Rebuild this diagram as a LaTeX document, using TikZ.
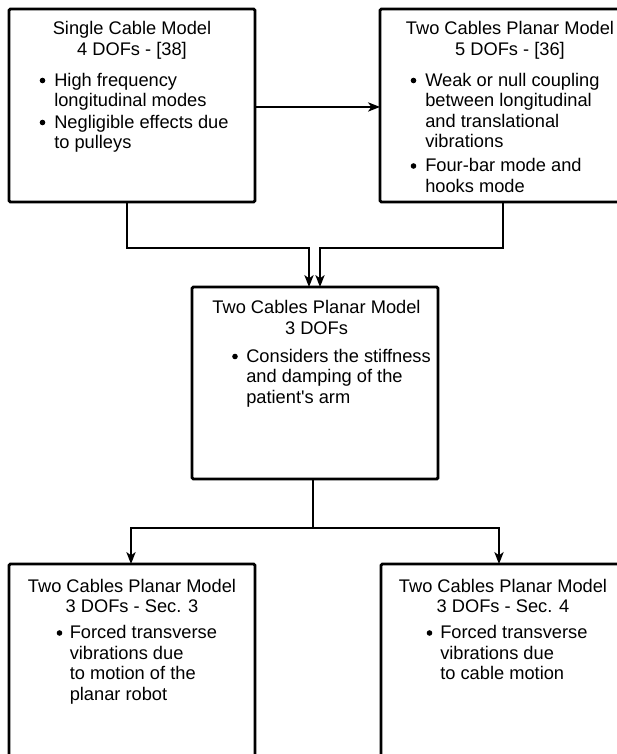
\documentclass[tikz,border=0pt]{standalone}
\usepackage{fontspec}
\setmainfont{Liberation Sans}
\usetikzlibrary{arrows.meta,calc}
\begin{document}
\begin{tikzpicture}[x=0.75pt,y=-0.75pt,
  box/.style={draw,line width=2.2pt,rounded corners=1pt,inner sep=0pt,outer sep=0pt},
  tl/.style={anchor=base,inner sep=0pt,font=\fontsize{13.7}{15}\selectfont},
  bl/.style={anchor=base west,inner sep=0pt,font=\fontsize{13.7}{15}\selectfont},
  dot/.style={circle,fill,inner sep=0pt,minimum size=4.2pt},
  conn/.style={line width=1pt},
  arr/.style={conn,-{Stealth[length=9pt,width=7pt,inset=2.5pt]}}]
\useasboundingbox (0,0) rectangle (617,754);
\clip (0,0) rectangle (617,754);
% boxes
\node[box,minimum width=184.5pt,minimum height=144.75pt] (b1) at (132,105.5) {};
\node[box,minimum width=184.5pt,minimum height=144.75pt] (b2) at (503,105.5) {};
\node[box,minimum width=184.5pt,minimum height=144pt] (b3) at (315,383) {};
\node[box,minimum width=184.5pt,minimum height=180pt] (b4) at (132,684) {};
\node[box,minimum width=184.5pt,minimum height=180pt] (b5) at (504,684) {};
% box 1 text
\node[tl] (b1t1) at (132,34) {Single Cable Model};
\node[tl] (b1t2) at (132,55) {4 DOFs - [38]};
\node[dot] (b1d1) at (42.5,80.5) {};
\node[bl] (b1l1) at (54,86) {High frequency};
\node[bl] (b1l2) at (54,106.5) {longitudinal modes};
\node[dot] (b1d2) at (42.5,122.5) {};
\node[bl] (b1l3) at (54,128) {Negligible effects due};
\node[bl] (b1l4) at (54,148.5) {to pulleys};
% box 2 text
\node[tl] (b2t1) at (510,34) {Two Cables Planar Model};
\node[tl] (b2t2) at (510,55) {5 DOFs - [36]};
\node[dot] (b2d1) at (413.5,80.5) {};
\node[bl] (b2l1) at (425,86) {Weak or null coupling};
\node[bl] (b2l2) at (425,106.5) {between longitudinal};
\node[bl] (b2l3) at (425,127) {and translational};
\node[bl] (b2l4) at (425,147.5) {vibrations};
\node[dot] (b2d2) at (413.5,166) {};
\node[bl] (b2l5) at (425,171.5) {Four-bar mode and};
\node[bl] (b2l6) at (425,192) {hooks mode};
% box 3 text
\node[tl] (b3t1) at (316.5,313) {Two Cables Planar Model};
\node[tl] (b3t2) at (316.5,334.5) {3 DOFs};
\node[dot] (b3d1) at (235,356.5) {};
\node[bl] (b3l1) at (246,362) {Considers the stiffness};
\node[bl] (b3l2) at (246,382.5) {and damping of the};
\node[bl] (b3l3) at (246,403) {patient\textquotesingle s arm};
% box 4 text
\node[tl] (b4t1) at (132,592) {Two Cables Planar Model};
\node[tl] (b4t2) at (132,612.5) {3 DOFs - Sec. 3};
\node[dot] (b4d1) at (59.5,633) {};
\node[bl] (b4l1) at (69.5,638.5) {Forced transverse};
\node[bl] (b4l2) at (69.5,659) {vibrations due};
\node[bl] (b4l3) at (69.5,679.5) {to motion of the};
\node[bl] (b4l4) at (69.5,700) {planar robot};
% box 5 text
\node[tl] (b5t1) at (503,592) {Two Cables Planar Model};
\node[tl] (b5t2) at (503,612.5) {3 DOFs - Sec. 4};
\node[dot] (b5d1) at (429.5,633) {};
\node[bl] (b5l1) at (440,638.5) {Forced transverse};
\node[bl] (b5l2) at (440,659) {vibrations due};
\node[bl] (b5l3) at (440,679.5) {to cable motion};
% connectors
\draw[arr] ([yshift=-1.1pt]b1.east) -- ([yshift=-1.1pt]b2.west);
\draw[arr] ([xshift=-3.75pt]b1.south) -- ++(0,46) -| ([xshift=-4.5pt]b3.north);
\draw[arr] (b2.south) -- ++(0,46) -| ([xshift=3.75pt]b3.north);
\draw[arr] ([xshift=-1.5pt]b3.south) -- ++(0,49) -| ([xshift=-0.75pt]b4.north);
\draw[arr] ([xshift=-1.5pt]b3.south) -- ++(0,49) -| ([xshift=-3.75pt]b5.north);
\end{tikzpicture}
\end{document}
